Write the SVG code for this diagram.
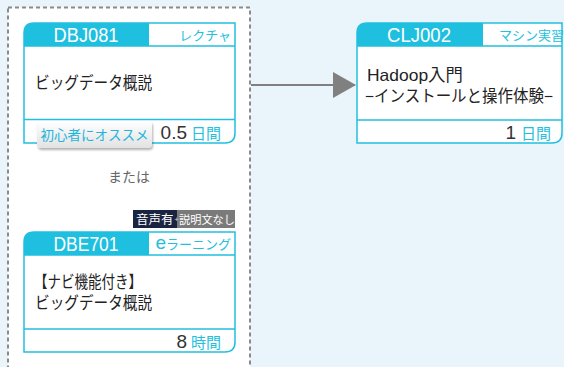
<svg xmlns="http://www.w3.org/2000/svg" width="564" height="367" viewBox="0 0 564 367">
<defs>
<style>
.card{fill:#ffffff;stroke:#22bfe0;stroke-width:1.5}
.hd{fill:#1fbfdf}
.sep{stroke:#22bfe0;stroke-width:1.5;fill:none}
.code{font-family:"Liberation Sans","Noto Sans CJK JP",sans-serif;font-size:20px;fill:#ffffff;text-anchor:middle}
.kind{font-family:"Noto Sans CJK JP",sans-serif;font-size:13px;fill:#22bfe0;text-anchor:end}
.title{font-family:"Liberation Sans","Noto Sans CJK JP",sans-serif;font-size:16.5px;fill:#222222}
.num{font-family:"Liberation Sans",sans-serif;font-size:19px;fill:#333333;text-anchor:end}
.unit{font-family:"Noto Sans CJK JP",sans-serif;font-size:15px;fill:#22bfe0;text-anchor:end}
.conn{stroke:#808080;stroke-width:2;fill:none}
</style>
<linearGradient id="badgeG" x1="0" y1="0" x2="0" y2="1">
<stop offset="0" stop-color="#ffffff"/>
<stop offset="1" stop-color="#e2e2e2"/>
</linearGradient>
<filter id="sh" x="-10%" y="-20%" width="130%" height="160%">
<feDropShadow dx="1" dy="2" stdDeviation="1.2" flood-color="#000" flood-opacity="0.3"/>
</filter>
<marker id="arr" markerWidth="24" markerHeight="26" refX="22" refY="13" orient="auto" markerUnits="userSpaceOnUse">
<path d="M0,0 L23,13 L0,26 Z" fill="#808080"/>
</marker>
</defs>
<rect x="0" y="0" width="564" height="367" fill="#eaf5fb"/>
<rect id="group-box" x="8" y="7.5" width="242" height="380" fill="#ffffff" stroke="#8a8a8a" stroke-width="2" stroke-dasharray="4,3"/>

<g id="connectors">
<path class="conn" d="M251,85 H355" marker-end="url(#arr)"/>
</g>

<g id="node-DBJ081">
<path class="card" d="M24,33 Q24,23 34,23 H235 V133 Q235,143 225,143 H24 Z"/>
<path class="hd" d="M24,46 V33 Q24,23 34,23 H149 V46 Z"/>
<path class="sep" d="M24,46 H235 M24,119.5 H235"/>
<text class="code" x="86" y="42" textLength="65" lengthAdjust="spacingAndGlyphs">DBJ081</text>
<text class="kind" x="231" y="40">レクチャ</text>
<text class="title" x="35" y="89" textLength="117" lengthAdjust="spacingAndGlyphs">ビッグデータ概説</text>
<text class="num" x="187" y="139">0.5</text>
<text class="unit" x="221" y="139">日間</text>
</g>

<g id="badge-recommend">
<rect x="37" y="121" width="115" height="27" rx="4" fill="url(#badgeG)" filter="url(#sh)"/>
<text x="94.5" y="140" font-family="Noto Sans CJK JP, sans-serif" font-size="13.5" fill="#22b5dc" text-anchor="middle">初心者にオススメ</text>
</g>

<text id="or-label" x="129" y="182" font-family="Noto Sans CJK JP, sans-serif" font-size="14" fill="#666666" text-anchor="middle">または</text>

<g id="badge-audio">
<rect x="133" y="210" width="44" height="18" fill="#1a2440"/>
<rect x="177" y="210" width="58" height="18" fill="#7a7a7a"/>
<text x="136" y="224" font-family="Noto Sans CJK JP, sans-serif" font-size="12.5" fill="#ffffff">音声有</text>
<text x="176.5" y="222" font-family="Liberation Sans, sans-serif" font-size="8" fill="#cccccc" text-anchor="middle">+</text>
<text x="179" y="224" font-family="Noto Sans CJK JP, sans-serif" font-size="11.2" fill="#ffffff">説明文なし</text>
</g>

<g id="node-DBE701">
<path class="card" d="M24,242 Q24,232 34,232 H235 V342 Q235,352 225,352 H24 Z"/>
<path class="hd" d="M24,255 V242 Q24,232 34,232 H149 V255 Z"/>
<path class="sep" d="M24,255 H235 M24,329 H235"/>
<text class="code" x="86" y="251" textLength="65" lengthAdjust="spacingAndGlyphs">DBE701</text>
<text x="231" y="249" font-family="Noto Sans CJK JP, sans-serif" font-size="13" fill="#22bfe0" text-anchor="end"><tspan font-size="19" font-family="Liberation Sans, sans-serif">e</tspan>ラーニング</text>
<text class="title" x="34" y="288" textLength="108" lengthAdjust="spacingAndGlyphs">【ナビ機能付き】</text>
<text class="title" x="35" y="309" textLength="117" lengthAdjust="spacingAndGlyphs">ビッグデータ概説</text>
<text class="num" x="187" y="348">8</text>
<text class="unit" x="221" y="348">時間</text>
</g>

<g id="node-CLJ002">
<path class="card" d="M357,33 Q357,23 367,23 H562 V133 Q562,143 552,143 H357 Z"/>
<path class="hd" d="M357,46 V33 Q357,23 367,23 H483 V46 Z"/>
<path class="sep" d="M357,46 H562 M357,120 H562"/>
<text class="code" x="419" y="42" textLength="64" lengthAdjust="spacingAndGlyphs">CLJ002</text>
<text class="kind" x="564" y="40" font-size="14">マシン実習</text>
<text class="title" x="367" y="81" textLength="96" lengthAdjust="spacingAndGlyphs">Hadoop入門</text>
<text class="title" x="365" y="102" textLength="188" lengthAdjust="spacingAndGlyphs">−インストールと操作体験−</text>
<text class="num" x="516" y="139">1</text>
<text class="unit" x="551" y="139">日間</text>
</g>
</svg>
